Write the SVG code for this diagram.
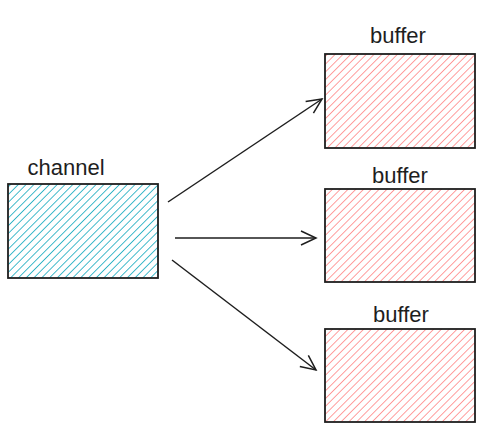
<svg xmlns="http://www.w3.org/2000/svg" width="497" height="434" viewBox="0 0 497 434">
<style>
.box{stroke:#1e1e1e;stroke-width:1.8}
.lbl{font-family:"Liberation Sans",Arial,sans-serif;font-size:22px;fill:#1e1e1e;text-anchor:middle}
.edge{fill:none;stroke:#1e1e1e;stroke-width:1.5;marker-end:url(#arr)}
</style>
<defs>
<pattern id="hb" patternUnits="userSpaceOnUse" width="5.5" height="5.5" patternTransform="rotate(45)">
<rect width="5.5" height="5.5" fill="#fff"/>
<line x1="0" y1="0" x2="0" y2="5.5" stroke="#15aabf" stroke-width="1.6"/>
</pattern>
<pattern id="hr" patternUnits="userSpaceOnUse" width="5.5" height="5.5" patternTransform="rotate(45)">
<rect width="5.5" height="5.5" fill="#fff"/>
<line x1="0" y1="0" x2="0" y2="5.5" stroke="#ff8787" stroke-width="1.6"/>
</pattern>
<marker id="arr" viewBox="0 0 20 20" refX="18" refY="10" markerWidth="20" markerHeight="20" markerUnits="userSpaceOnUse" orient="auto">
<path d="M3 3 L18 10 L3 17" fill="none" stroke="#1e1e1e" stroke-width="1.5"/>
</marker>
</defs>
<rect width="497" height="434" fill="#fff"/>
<g id="connectors">
<line class="edge" x1="168" y1="202" x2="322" y2="99"/>
<line class="edge" x1="175" y1="238" x2="316" y2="238"/>
<line class="edge" x1="172" y1="260" x2="316" y2="370"/>
</g>
<g id="channel">
<rect class="box" x="8" y="184" width="150" height="94" fill="url(#hb)"/>
<text class="lbl" x="66" y="175">channel</text>
</g>
<g id="buffer1">
<rect class="box" x="325" y="54" width="150" height="94" fill="url(#hr)"/>
<text class="lbl" x="398" y="43">buffer</text>
</g>
<g id="buffer2">
<rect class="box" x="325" y="189" width="150" height="93" fill="url(#hr)"/>
<text class="lbl" x="400" y="183">buffer</text>
</g>
<g id="buffer3">
<rect class="box" x="325" y="329" width="150" height="93" fill="url(#hr)"/>
<text class="lbl" x="401" y="322">buffer</text>
</g>
</svg>
